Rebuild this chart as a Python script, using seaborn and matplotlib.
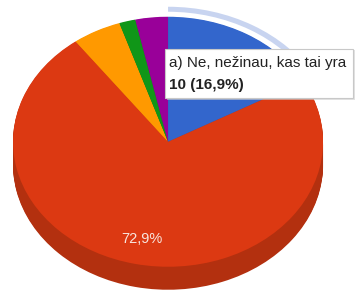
import numpy as np
import matplotlib
matplotlib.use("Agg")
import matplotlib.pyplot as plt
import seaborn as sns
from matplotlib.patches import Rectangle

# answers (only the hovered one has its label in the tooltip)
labels = ["a) Ne, nežinau, kas tai yra", "b)", "c)", "d)", "e)"]
counts = [10, 43, 3, 1, 2]
colors = ["#3366cc", "#dc3912", "#ff9900", "#109618", "#990099"]
side_colors = ["#2a55aa", "#b3300f", "#d98200", "#0d7a13", "#7a007a"]

sns.set_theme(style="white")
plt.rcParams["font.family"] = ["Liberation Sans", "DejaVu Sans"]

fig = plt.figure(figsize=(3.55, 2.94), dpi=100)
ax = fig.add_axes([0, 0, 1, 1])

total = sum(counts)
depth = 0.184

# 3d side: stack of darker pies shifted down
for d in np.linspace(depth, 0.005, 24):
    ax.pie(counts, colors=side_colors, startangle=90, counterclock=False,
           center=(0, -d), wedgeprops=dict(linewidth=0))

# highlight ring around the hovered slice
ring = ["#c8d4f0"] + ["none"] * (len(counts) - 1)
ax.pie(counts, colors=ring, startangle=90, counterclock=False, radius=1.08,
       wedgeprops=dict(width=0.04, linewidth=0))


def pct_label(p):
    return (f"{p:.1f}".replace(".", ",") + "%") if p > 50 else ""


wedges, texts, autotexts = ax.pie(
    counts, colors=colors, startangle=90, counterclock=False,
    autopct=pct_label, pctdistance=0.8,
    wedgeprops=dict(linewidth=0),
    textprops=dict(color="#f8e6de", fontsize=10.5))

ax.set_aspect("auto")
ax.set_xlim(-1.084, 1.206)
ax.set_ylim(-1.218, 1.134)
ax.axis("off")

# tooltip
fig.patches.append(Rectangle((0.470, 0.660), 0.53, 0.17, transform=fig.transFigure,
                             facecolor="#d0d0d0", edgecolor="none", alpha=0.6, zorder=5))
fig.patches.append(Rectangle((0.465, 0.667), 0.53, 0.166, transform=fig.transFigure,
                             facecolor="white", edgecolor="#c8c8c8", linewidth=0.8, zorder=6))
fig.text(0.476, 0.785, labels[0], fontsize=11, color="#222222", va="center", zorder=7)
fig.text(0.476, 0.712, f"{counts[0]} ({counts[0] / total * 100:.1f}%)".replace(".", ","),
         fontsize=11, color="#222222", fontweight="bold", va="center", zorder=7)

fig.savefig("out.png", dpi=100)
